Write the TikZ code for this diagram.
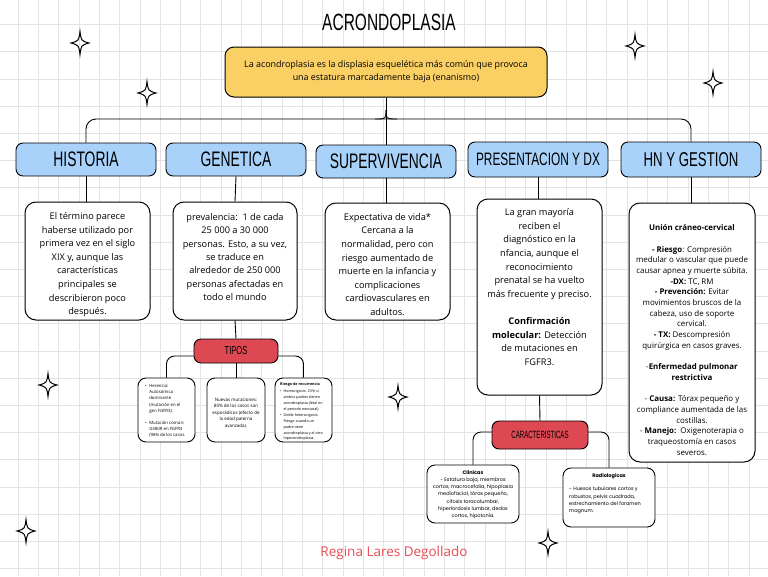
\documentclass[tikz,border=0pt]{standalone}
\usepackage{fontspec}
\setmainfont{Open Sans}
\newfontfamily\headfont[FakeStretch=0.66]{Liberation Sans}
\newfontfamily\narrowfont[FakeStretch=0.58]{Liberation Sans}
\newfontfamily\popfont{Poppins}
\definecolor{hblue}{RGB}{168,210,250}
\definecolor{tyellow}{RGB}{250,208,100}
\definecolor{tred}{RGB}{222,72,82}
\definecolor{namered}{RGB}{232,76,86}
\definecolor{gridc}{RGB}{228,228,228}
\newcommand{\sparkle}[1]{\draw[line width=1pt, shift={(#1)}] (0,-11.5) .. controls (1.2,-2.2) .. (9,0) .. controls (1.2,2.2) .. (0,11.5) .. controls (-1.2,2.2) .. (-9,0) .. controls (-1.2,-2.2) .. cycle;}
\tikzset{
  hdr/.style={draw=black, line width=0.9pt, rounded corners=7pt, fill=hblue, minimum width=140pt, minimum height=33pt, inner sep=0pt, font=\headfont\fontsize{21}{21}\selectfont},
  wbox/.style={draw=black, line width=1pt, rounded corners=11pt, fill=white, inner sep=0pt},
  sbox/.style={draw=black, line width=0.9pt, rounded corners=8pt, fill=white, inner sep=0pt},
  rbox/.style={draw=black, line width=0.9pt, rounded corners=7pt, fill=tred, inner sep=0pt},
  btxt/.style={align=center, inner sep=0pt, font=\fontsize{9.2}{13.6}\selectfont},
  htxt/.style={align=center, inner sep=0pt, font=\fontsize{7.9}{10.7}\selectfont},
  conn/.style={line width=0.9pt, draw=black},
}
\begin{document}
\begin{tikzpicture}[x=1pt,y=-1pt]
\useasboundingbox (0,0) rectangle (768,576);
\fill[white] (0,0) rectangle (768,576);
% grid
\foreach \i in {0,...,38} {\draw[gridc, line width=0.5pt] (-2.3+20.3*\i,0) -- (-2.3+20.3*\i,576);}
\foreach \j in {0,...,22} {\draw[gridc, line width=0.5pt] (0,-2.8+27.2*\j) -- (768,-2.8+27.2*\j);}

% title
\node[font=\headfont\fontsize{23.5}{24}\selectfont] (title) at (389,22) {ACRONDOPLASIA};

% top box
\node[draw=black, line width=1pt, rounded corners=9pt, fill=tyellow, minimum width=322pt, minimum height=50pt, align=center, inner sep=0pt, font=\fontsize{8.9}{13}\selectfont] (top) at (386,72)
  {La acondroplasia es la displasia esquelética más común que provoca\\una estatura marcadamente baja (enanismo)};

% headers
\node[hdr] (hist) at (86,159.5) {HISTORIA};
\node[hdr] (gen) at (236,159.5) {GENETICA};
\node[hdr] (sup) at (386,161.5) {SUPERVIVENCIA};
\node[hdr, minimum height=35pt, font=\headfont\fontsize{18}{18}\selectfont] (pres) at (538,159.5) {PRESENTACION Y DX};
\node[hdr, minimum height=35pt, font=\headfont\fontsize{20}{20}\selectfont] (hn) at (691,159.5) {HN Y GESTION};

% bracket
\coordinate (bk) at (386,119);
\coordinate (bt) at (386,110);
\draw[conn, rounded corners=10pt] (hist.north) |- (bk) -| (hn.north);
\draw[conn] (top.south) -- (sup.north);
\draw[conn] (bt) .. controls (386,119) .. (375,119);
\draw[conn] (bt) .. controls (386,119) .. (397,119);

% content boxes
\node[wbox, minimum width=125pt, minimum height=118pt] (histb) at (87.5,261) {};
\node[wbox, minimum width=124pt, minimum height=118pt] (genb) at (235,261) {};
\node[wbox, minimum width=125pt, minimum height=117pt] (supb) at (387.5,261.5) {};
\node[wbox, minimum width=125pt, minimum height=196pt] (presb) at (539.5,297) {};
\node[wbox, minimum width=126pt, minimum height=259pt] (hnb) at (692,332.5) {};

\draw[conn] (hist.south) -- (histb.north -| hist.south);
\draw[conn] (gen.south) -- (genb.north);
\draw[conn] (sup.south) -- (supb.north -| sup.south);
\draw[conn] (pres.south) -- (presb.north -| pres.south);
\draw[conn] (hn.south) -- (hnb.north -| hn.south);

\node[btxt] (histt) at (87.5,264.6) {El término parece\\haberse utilizado por\\primera vez en el siglo\\XIX y, aunque las\\características\\principales se\\describieron poco\\después.};
\node[btxt, font=\fontsize{9.2}{13.3}\selectfont] (gent) at (235,257) {prevalencia:\ \ 1 de cada\\25 000 a 30 000\\personas. Esto, a su vez,\\se traduce en\\alrededor de 250 000\\personas afectadas en\\todo el mundo};
\node[btxt] (supt) at (387.5,264.5) {Expectativa de vida*\\Cercana a la\\normalidad, pero con\\riesgo aumentado de\\muerte en la infancia y\\complicaciones\\cardiovasculares en\\adultos.};
\node[btxt] (prest) at (539.5,287) {La gran mayoría\\reciben el\\diagnóstico en la\\nfancia, aunque el\\reconocimiento\\prenatal se ha vuelto\\más frecuente y preciso.\\[13.6pt]\textbf{Confirmación}\\\textbf{molecular:} Detección\\de mutaciones en\\FGFR3.};
\node[htxt] (hnt) at (692,340) {\textbf{Unión cráneo-cervical}\\[10.7pt]
\textbf{- Riesgo}: Compresión\\
medular o vascular que puede\\
causar apnea y muerte súbita.\\
\textbf{-DX:} TC, RM\\
\textbf{- Prevención:} Evitar\\
movimientos bruscos de la\\
cabeza, uso de soporte\\
cervical.\\
\textbf{- TX:} Descompresión\\
quirúrgica en casos graves.\\[10.7pt]
-\textbf{Enfermedad pulmonar}\\
\textbf{restrictiva}\\[10.7pt]
- \textbf{Causa:} Tórax pequeño y\\
compliance aumentada de las\\
costillas.\\
- \textbf{Manejo:}\ \ Oxigenoterapia o\\
traqueostomía en casos\\
severos.};

% TIPOS
\node[rbox, minimum width=84pt, minimum height=24pt, font=\headfont\fontsize{11.5}{12}\selectfont] (tipos) at (236,351) {TIPOS};
\draw[conn] (genb.south) -- (tipos.north);
\node[sbox, minimum width=57pt, minimum height=64pt] (tl) at (166.5,410) {};
\node[sbox, minimum width=58pt, minimum height=64pt] (tm) at (236,410) {};
\node[sbox, minimum width=57pt, minimum height=64pt] (tr) at (303.5,410) {};
\draw[conn, rounded corners=8pt] ([yshift=-5pt]tipos.west) -| (tl.north);
\draw[conn] (tipos.south) -- (tm.north);
\draw[conn, rounded corners=8pt] ([yshift=-5pt]tipos.east) -| (tr.north);

\node[anchor=north west, inner sep=0pt, font=\fontsize{4.3}{6.2}\selectfont] (tlt) at (145,383)
  {\begin{tabular}{@{}l@{\hspace{2.5pt}}l@{}}\textbullet & Herencia:\\ & Autosómica\\ & dominante\\ & (mutación en el\\ & gen FGFR3).\\[6pt] \textbullet & Mutación común:\\ & G380R en FGFR3\\ & (98\% de los casos.\end{tabular}};
\node[align=center, inner sep=0pt, font=\fontsize{4.5}{6.6}\selectfont] (tmt) at (236,413)
  {Nuevas mutaciones:\\80\% de los casos son\\esporádicos (efecto de\\la edad paterna\\avanzada).};
\node[anchor=north west, inner sep=0pt, font=\fontsize{3.7}{5.9}\selectfont] (trt) at (280,381)
  {\begin{tabular}{@{}l@{\hspace{2pt}}l@{}}\multicolumn{2}{@{}l@{}}{\textbf{Riesgo de recurrencia}}\\[1.5pt] \textbullet & Homocigosis: 25\% si\\ & ambos padres tienen\\ & acondroplasia (letal en\\ & el periodo neonatal).\\ \textbullet & Doble heterocigosis:\\ & Riesgo cuando un\\ & padre tiene\\ & acondroplasia y el otro\\ & hipocondroplasia.\end{tabular}};

% CARACTERISTICAS
\node[rbox, minimum width=96pt, minimum height=28pt, font=\narrowfont\fontsize{10.5}{11}\selectfont] (car) at (540,435) {CARACTERISTICAS};
\draw[conn] (presb.south) -- (car.north);
\node[sbox, minimum width=92pt, minimum height=58pt] (clin) at (473,494) {};
\node[sbox, minimum width=92pt, minimum height=59pt] (rad) at (609,497.5) {};
\draw[conn, rounded corners=8pt] ([yshift=3pt]car.west) -| (clin.north);
\draw[conn, rounded corners=8pt] ([yshift=3pt]car.east) -| (rad.north);
\node[align=center, inner sep=0pt, font=\popfont\fontsize{5}{7.2}\selectfont] (clint) at (473,494.5)
  {\textbf{Clinicas}\\- Estatura baja, miembros\\cortos, macrocefalia, hipoplasia\\mediofacial, tórax pequeño,\\cifosis toracolumbar,\\hiperlordosis lumbar, dedos\\cortos, hipotonía.};
\node[inner sep=0pt, font=\popfont\bfseries\fontsize{5}{7.2}\selectfont] (radh) at (609,476) {Radiologicas};
\node[anchor=north west, align=left, inner sep=0pt, font=\popfont\fontsize{5}{7.2}\selectfont] (radt) at (569,487)
  {- Huesos tubulares cortos y\\robustos, pelvis cuadrada,\\estrechamiento del foramen\\magnum.};

% name
\node[text=namered, font=\fontsize{13.5}{14}\selectfont] (name) at (394,553) {Regina Lares Degollado};

% sparkles
\sparkle{80,43}
\sparkle{147,93}
\sparkle{635,46}
\sparkle{713,83}
\sparkle{48,385}
\sparkle{398,397}
\sparkle{26,531}
\sparkle{548,543}
\end{tikzpicture}
\end{document}
